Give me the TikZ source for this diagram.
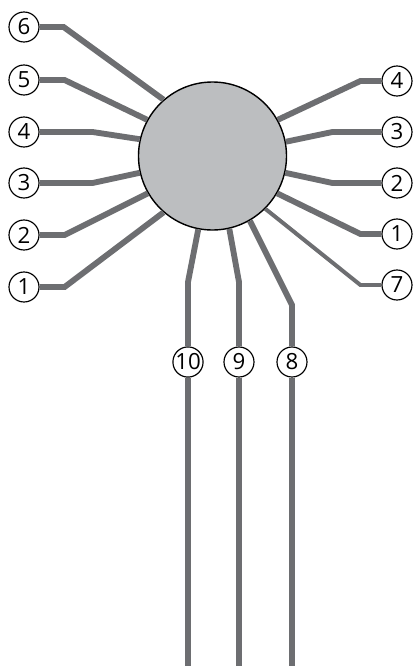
\documentclass[tikz,border=0pt]{standalone}
\usepackage{fontspec}
\setmainfont{Open Sans}
\usepackage{tikz}
\definecolor{wiregray}{HTML}{6D6E71}
\definecolor{hubgray}{HTML}{BCBEC0}

\begin{document}
\begin{tikzpicture}[x=0.03cm, y=-0.03cm,
    hub/.style={draw, circle, fill=hubgray, line width=1.2pt, minimum size=4.44cm, inner sep=0pt},
    lbl/.style={draw, circle, fill=white, line width=1pt, minimum size=0.9cm, inner sep=0pt, font=\fontsize{19}{19}\selectfont},
    wire/.style={draw=wiregray, line width=5pt},
    thinwire/.style={draw=wiregray, line width=3.4pt}]
    \useasboundingbox (0,0) rectangle (414,666);
    \node[hub] (hub) at (212.5,156) {};

    \node[lbl] (l6) at (24,27) {6};
    \node[lbl] (l5) at (24,80) {5};
    \node[lbl] (l4) at (24,132) {4};
    \node[lbl] (l3) at (24,183) {3};
    \node[lbl] (l2) at (24,235) {2};
    \node[lbl] (l1) at (24,287) {1};

    \node[lbl] (r4) at (397,81) {4};
    \node[lbl] (r3) at (397,132) {3};
    \node[lbl] (r2) at (397,183) {2};
    \node[lbl] (r1) at (397,234) {1};
    \node[lbl] (r7) at (397,285) {7};

    \node[lbl] (b10) at (188,362) {10};
    \node[lbl] (b9) at (239,362) {9};
    \node[lbl] (b8) at (292,362) {8};
    \coordinate (e10) at (188,666);
    \coordinate (e9) at (239,666);
    \coordinate (e8) at (292,666);

    % left side
    \draw[wire] (l6.east) -- ++(24,0) -- (hub.131);
    \draw[wire] (l5.east) -- ++(25,0) -- (hub.151);
    \draw[wire] (l4.east) -- ++(53,0) -- (hub.167);
    \draw[wire] (l3.east) -- ++(53,0) -- (hub.193);
    \draw[wire] (l2.east) -- ++(25,0) -- (hub.210);
    \draw[wire] (l1.east) -- ++(25,0) -- (hub.229);

    % right side
    \draw[wire] (r4.west) -- ++(-21,0) -- (hub.29);
    \draw[wire] (r3.west) -- ++(-49,0) -- (hub.11);
    \draw[wire] (r2.west) -- ++(-49,0) -- (hub.347);
    \draw[wire] (r1.west) -- ++(-21,0) -- (hub.330);
    \draw[thinwire] (r7.west) -- ++(-21,0) -- (hub.315);

    % bottom
    \draw[wire] (hub.259) -- (188,282) -- (b10.north);
    \draw[wire] (hub.283) -- (239,282) -- (b9.north);
    \draw[wire] (hub.300) -- (292,305) -- (b8.north);
    \draw[wire] (b10.south) -- (e10);
    \draw[wire] (b9.south) -- (e9);
    \draw[wire] (b8.south) -- (e8);
\end{tikzpicture}
\end{document}
